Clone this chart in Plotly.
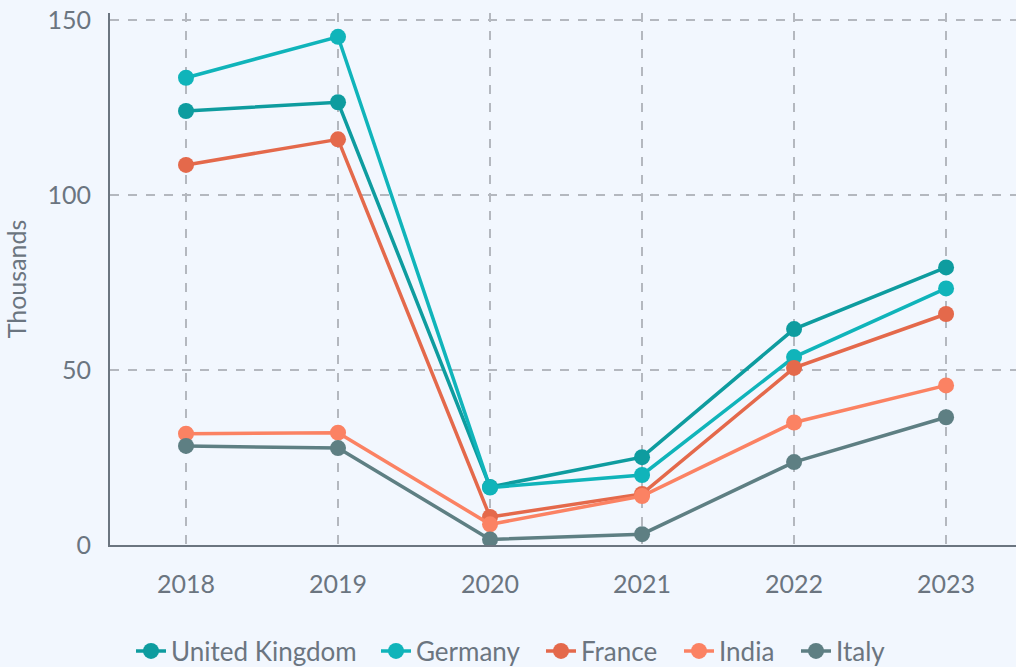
import plotly.graph_objects as go

years = [2018, 2019, 2020, 2021, 2022, 2023]
series_names = ["United Kingdom", "Germany", "France", "India", "Italy"]
uk = [124.0, 126.5, 16.6, 25.1, 61.7, 79.3]
germany = [133.5, 145.2, 16.4, 20.0, 53.7, 73.3]
france = [108.6, 115.9, 8.0, 14.6, 50.6, 66.0]
india = [31.8, 32.1, 5.9, 14.0, 35.0, 45.6]
italy = [28.3, 27.7, 1.6, 3.1, 23.7, 36.5]
colors = ["#0e9c9f", "#10b4ba", "#e4694b", "#fb8263", "#5e7f83"]
# left edge (px) of each legend entry
legend_left = [131, 376, 541, 679, 796]

font_color = "#6b7580"
fig = go.Figure()
legend_layout = {}
for i, (name, vals, c) in enumerate(zip(series_names, [uk, germany, france, india, italy], colors)):
    key = "legend" if i == 0 else f"legend{i+1}"
    fig.add_trace(go.Scatter(
        x=years, y=vals, name=name, mode="lines+markers",
        line=dict(color=c, width=3.5),
        marker=dict(color=c, size=16),
        legend=key,
    ))
    legend_layout[key] = dict(orientation="h", xref="container", yref="container",
                              x=legend_left[i] / 1016, xanchor="left",
                              y=0.024, yanchor="middle",
                              font=dict(size=26, color=font_color), itemwidth=30,
                              bgcolor="rgba(0,0,0,0)")

fig.update_layout(
    width=1016, height=667,
    paper_bgcolor="#f2f7fe", plot_bgcolor="#f2f7fe",
    font=dict(family="Lato", size=25, color=font_color),
    margin=dict(l=110, r=0, t=13, b=122),
    showlegend=True,
    xaxis=dict(range=[2017.5, 2023.46], tickmode="array", tickvals=years,
               ticktext=[str(y) for y in years],
               showgrid=True, gridcolor="#b4b8bf", griddash="dash", gridwidth=1.5,
               showline=True, linecolor="#6b7580", linewidth=2,
               zeroline=False, ticks="", ticklabelstandoff=16),
    yaxis=dict(range=[0, 152], tickvals=[0, 50, 100, 150],
               title=dict(text="Thousands", font=dict(size=25, color=font_color), standoff=14),
               showgrid=True, gridcolor="#b4b8bf", griddash="dash", gridwidth=1.5,
               showline=True, linecolor="#6b7580", linewidth=2,
               zeroline=False, ticks="", ticklabelstandoff=12),
    **legend_layout,
)

fig.write_html("out.html", config={"displayModeBar": False},
               post_script="document.body.style.margin='0';document.body.style.background='#f2f7fe';")
